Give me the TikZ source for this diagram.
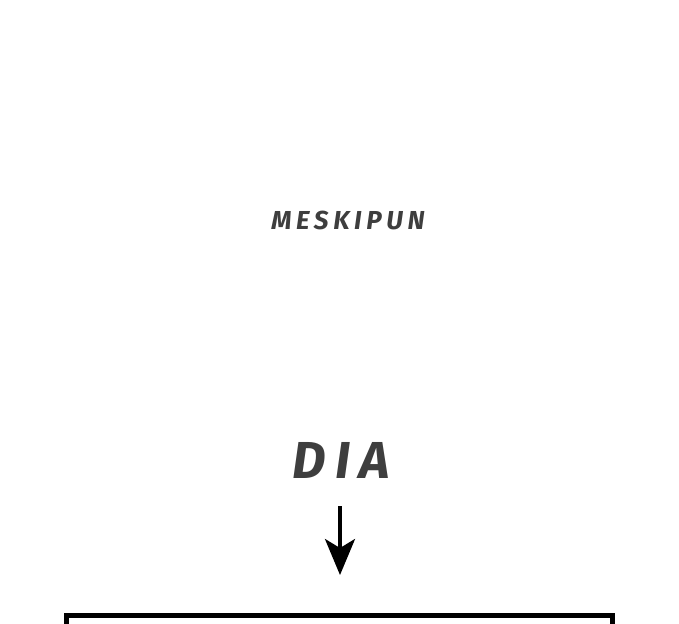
\documentclass[tikz,border=0pt]{standalone}
\usepackage{fontspec}
\usepackage{tikz}
\usetikzlibrary{arrows.meta, positioning}
\definecolor{inkgray}{RGB}{62, 62, 62}
\newfontfamily\comicfont[LetterSpace=18]{Fira Sans}

\begin{document}
\begin{tikzpicture}[
  x=1pt, y=-1pt,
  caption/.style={text=inkgray, inner sep=0pt, anchor=base, font=\comicfont\bfseries\itshape},
  pointer/.style={draw=black, line width=3.5pt, -{Stealth[length=36pt, width=30pt, inset=9pt]}},
  panelframe/.style={draw=black, line width=5pt}
]
  \clip (0,0) rectangle (679,623);
  \fill[white] (0,0) rectangle (679,623);

  % Captions
  \node[caption, font=\comicfont\bfseries\itshape\fontsize{26}{30}\selectfont] (meskipun) at (348, 229) {MESKIPUN};
  \node[caption, font=\comicfont\bfseries\itshape\fontsize{52}{58}\selectfont] (dia) at (341, 478) {DIA};

  % Arrow down into the next panel
  \coordinate (tip) at (340, 575);
  \draw[pointer] (dia.south -| tip) ++(0, 28) -- (tip);

  % Next panel, cut off at the bottom
  \draw[panelframe] (66, 615) rectangle (612, 680);
\end{tikzpicture}
\end{document}
